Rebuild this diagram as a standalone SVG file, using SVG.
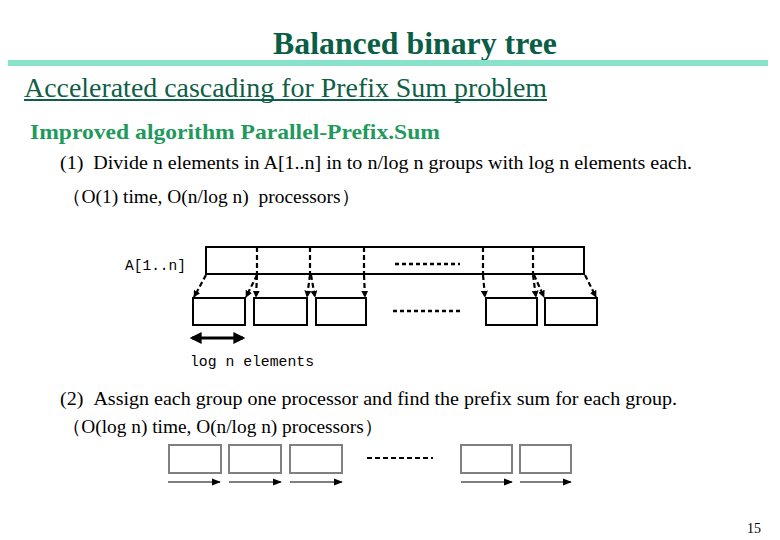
<svg xmlns="http://www.w3.org/2000/svg" width="780" height="540" viewBox="0 0 780 540">
<defs>
<style>
.serif{font-family:"Liberation Serif","Times New Roman",serif}
.mono{font-family:"Liberation Mono","Courier New",monospace;fill:#000}
.box{fill:#fff;stroke:#000;stroke-width:2}
.gbox{fill:#fff;stroke:#808080;stroke-width:2}
.dash{fill:none;stroke:#000;stroke-width:2.2;stroke-dasharray:5,3}
.dots{fill:none;stroke:#000;stroke-width:2.5;stroke-dasharray:4,3}
.thin{fill:none;stroke:#000;stroke-width:1.2}
</style>
<marker id="ah" viewBox="0 0 10 10" refX="9" refY="5" markerWidth="7" markerHeight="7" markerUnits="userSpaceOnUse" orient="auto"><path d="M0,0L10,5L0,10z" fill="#000"/></marker>
<marker id="ah2" viewBox="0 0 10 10" refX="9" refY="5" markerWidth="9" markerHeight="9" markerUnits="userSpaceOnUse" orient="auto"><path d="M0,1L10,5L0,9z" fill="#000"/></marker>
<marker id="big" viewBox="0 0 10 10" refX="8" refY="5" markerWidth="14" markerHeight="12" markerUnits="userSpaceOnUse" orient="auto-start-reverse"><path d="M0,0L10,5L0,10z" fill="#000"/></marker>
</defs>
<rect width="780" height="540" fill="#fff"/>
<text class="serif" x="273" y="54" font-size="31" font-weight="bold" fill="#0b5e46" textLength="284" lengthAdjust="spacingAndGlyphs">Balanced binary tree</text>
<rect x="8" y="60" width="760" height="6" fill="#88e2c9"/>
<text class="serif" x="24" y="97" font-size="28" fill="#0f5e46" textLength="523" lengthAdjust="spacingAndGlyphs">Accelerated cascading for Prefix Sum problem</text>
<line x1="24" y1="100" x2="547" y2="100" stroke="#0f5e46" stroke-width="2"/>
<text class="serif" x="30" y="139" font-size="22" font-weight="bold" fill="#1f9a5c" textLength="410" lengthAdjust="spacingAndGlyphs">Improved algorithm Parallel-Prefix.Sum</text>
<text class="serif" x="60" y="169" font-size="19" fill="#000" textLength="632" lengthAdjust="spacingAndGlyphs">(1)&#160;&#160;Divide n elements in A[1..n] in to n/log n groups with log n elements each.</text>
<text class="serif" x="62" y="203" font-size="19" fill="#000" textLength="298" lengthAdjust="spacingAndGlyphs">（O(1) time, O(n/log n)&#160;&#160;processors）</text>

<g id="label-A">
<text class="mono" x="125" y="270" font-size="15" textLength="61" lengthAdjust="spacingAndGlyphs">A[1..n]</text>
</g>
<g id="array">
<rect class="box" x="206" y="247" width="378" height="27"/>
<path class="dots" d="M395,264H460"/>
</g>
<g id="group1"><rect class="box" x="193" y="298" width="52" height="27"/></g>
<g id="group2"><rect class="box" x="254" y="298" width="53" height="27"/></g>
<g id="group3"><rect class="box" x="316" y="298" width="50" height="27"/></g>
<g id="groups-dots"><path class="dots" d="M393,311H460"/></g>
<g id="group4"><rect class="box" x="486" y="298" width="51" height="27"/></g>
<g id="group5"><rect class="box" x="545" y="298" width="52" height="27"/></g>

<g id="connectors">
<path class="dash" d="M257,247V274M310,247V274M364,247V274M483,247V274M533,247V274"/>
<path class="dash" marker-end="url(#ah)" d="M206,275L194,297"/>
<path class="dash" marker-end="url(#ah)" d="M257,275L246,297"/>
<path class="dash" marker-end="url(#ah)" d="M257,275L256,297"/>
<path class="dash" marker-end="url(#ah)" d="M310,275L307,297"/>
<path class="dash" marker-end="url(#ah)" d="M311,275L315,297"/>
<path class="dash" marker-end="url(#ah)" d="M364,275L365,297"/>
<path class="dash" marker-end="url(#ah)" d="M483,275L485,297"/>
<path class="dash" marker-end="url(#ah)" d="M533,275L536,297"/>
<path class="dash" marker-end="url(#ah)" d="M534,275L544,297"/>
<path class="dash" marker-end="url(#ah)" d="M585,275L596,297"/>
<path fill="none" stroke="#000" stroke-width="3" marker-start="url(#big)" marker-end="url(#big)" d="M192,338H243"/>
<path class="thin" marker-end="url(#ah2)" d="M168,482H220"/>
<path class="thin" marker-end="url(#ah2)" d="M229,482H281"/>
<path class="thin" marker-end="url(#ah2)" d="M290,482H342"/>
<path class="thin" marker-end="url(#ah2)" d="M461,482H512"/>
<path class="thin" marker-end="url(#ah2)" d="M520,482H571"/>
</g>
<g id="label-log">
<text class="mono" x="190" y="366" font-size="15" textLength="124" lengthAdjust="spacingAndGlyphs">log n elements</text>
</g>

<text class="serif" x="60" y="405" font-size="19" fill="#000" textLength="617" lengthAdjust="spacingAndGlyphs">(2)&#160;&#160;Assign each group one processor and find the prefix sum for each group.</text>
<text class="serif" x="62" y="433" font-size="19" fill="#000" textLength="321" lengthAdjust="spacingAndGlyphs">（O(log n) time, O(n/log n) processors）</text>

<g id="pgroup1"><rect class="gbox" x="169" y="445" width="52" height="28"/></g>
<g id="pgroup2"><rect class="gbox" x="229" y="445" width="52" height="28"/></g>
<g id="pgroup3"><rect class="gbox" x="290" y="445" width="52" height="28"/></g>
<g id="pgroups-dots"><path fill="none" stroke="#000" stroke-width="2" stroke-dasharray="5,3" d="M367,458H433"/></g>
<g id="pgroup4"><rect class="gbox" x="461" y="445" width="51" height="28"/></g>
<g id="pgroup5"><rect class="gbox" x="520" y="445" width="51" height="28"/></g>

<text class="serif" x="747" y="533" font-size="14" fill="#000">15</text>
</svg>
